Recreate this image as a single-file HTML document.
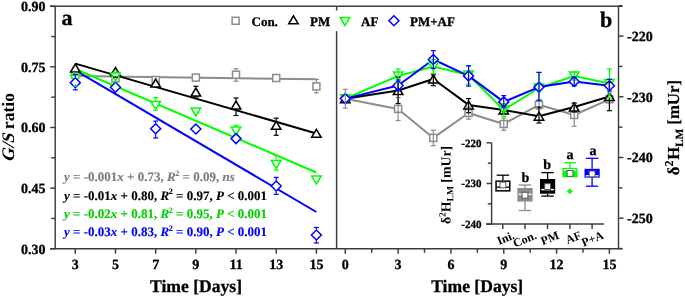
<!DOCTYPE html><html><head><meta charset="utf-8"><style>html,body{margin:0;padding:0;background:#fff;width:685px;height:297px;overflow:hidden}svg{will-change:transform}</style></head><body><svg xmlns="http://www.w3.org/2000/svg" width="685" height="297" viewBox="0 0 685 297" style="display:block;font-family:'Liberation Serif', serif;text-rendering:geometricPrecision">
<rect width="685" height="297" fill="#fff"/>
<line x1="75.30" y1="76.00" x2="316.40" y2="79.30" stroke="#8c8c8c" stroke-width="2.0" />
<line x1="75.30" y1="63.60" x2="316.40" y2="133.50" stroke="#000" stroke-width="2.0" />
<line x1="75.30" y1="69.00" x2="316.40" y2="172.50" stroke="#00ff00" stroke-width="2.0" />
<line x1="75.30" y1="70.40" x2="316.40" y2="212.00" stroke="#0000ff" stroke-width="2.0" />
<rect x="71.80" y="71.00" width="7.0" height="7.0" fill="#fff" stroke="#8c8c8c" stroke-width="1.5"/>
<rect x="111.98" y="75.00" width="7.0" height="7.0" fill="#fff" stroke="#8c8c8c" stroke-width="1.5"/>
<rect x="152.17" y="76.50" width="7.0" height="7.0" fill="#fff" stroke="#8c8c8c" stroke-width="1.5"/>
<rect x="192.35" y="74.10" width="7.0" height="7.0" fill="#fff" stroke="#8c8c8c" stroke-width="1.5"/>
<rect x="232.53" y="71.20" width="7.0" height="7.0" fill="#fff" stroke="#8c8c8c" stroke-width="1.5"/>
<rect x="272.72" y="74.50" width="7.0" height="7.0" fill="#fff" stroke="#8c8c8c" stroke-width="1.5"/>
<rect x="312.90" y="82.90" width="7.0" height="7.0" fill="#fff" stroke="#8c8c8c" stroke-width="1.5"/>
<polygon points="75.30,64.00 80.05,72.00 70.55,72.00" fill="#fff" stroke="#000" stroke-width="1.5" stroke-linejoin="miter"/>
<polygon points="115.48,67.50 120.23,75.50 110.73,75.50" fill="#fff" stroke="#000" stroke-width="1.5" stroke-linejoin="miter"/>
<polygon points="155.67,79.00 160.42,87.00 150.92,87.00" fill="#fff" stroke="#000" stroke-width="1.5" stroke-linejoin="miter"/>
<polygon points="195.85,88.00 200.60,96.00 191.10,96.00" fill="#fff" stroke="#000" stroke-width="1.5" stroke-linejoin="miter"/>
<polygon points="236.03,101.00 240.78,109.00 231.28,109.00" fill="#fff" stroke="#000" stroke-width="1.5" stroke-linejoin="miter"/>
<polygon points="276.22,121.30 280.97,129.30 271.47,129.30" fill="#fff" stroke="#000" stroke-width="1.5" stroke-linejoin="miter"/>
<polygon points="316.40,129.30 321.15,137.30 311.65,137.30" fill="#fff" stroke="#000" stroke-width="1.5" stroke-linejoin="miter"/>
<polygon points="75.30,83.20 80.05,75.20 70.55,75.20" fill="#fff" stroke="#00ff00" stroke-width="1.5" stroke-linejoin="miter"/>
<polygon points="115.48,81.00 120.23,73.00 110.73,73.00" fill="#fff" stroke="#00ff00" stroke-width="1.5" stroke-linejoin="miter"/>
<polygon points="155.67,109.40 160.42,101.40 150.92,101.40" fill="#fff" stroke="#00ff00" stroke-width="1.5" stroke-linejoin="miter"/>
<polygon points="195.85,116.00 200.60,108.00 191.10,108.00" fill="#fff" stroke="#00ff00" stroke-width="1.5" stroke-linejoin="miter"/>
<polygon points="236.03,135.00 240.78,127.00 231.28,127.00" fill="#fff" stroke="#00ff00" stroke-width="1.5" stroke-linejoin="miter"/>
<polygon points="276.22,168.50 280.97,160.50 271.47,160.50" fill="#fff" stroke="#00ff00" stroke-width="1.5" stroke-linejoin="miter"/>
<polygon points="316.40,184.00 321.15,176.00 311.65,176.00" fill="#fff" stroke="#00ff00" stroke-width="1.5" stroke-linejoin="miter"/>
<polygon points="75.30,77.80 80.30,82.80 75.30,87.80 70.30,82.80" fill="#fff" stroke="#0000ff" stroke-width="1.5"/>
<polygon points="115.48,82.30 120.48,87.30 115.48,92.30 110.48,87.30" fill="#fff" stroke="#0000ff" stroke-width="1.5"/>
<polygon points="155.67,123.70 160.67,128.70 155.67,133.70 150.67,128.70" fill="#fff" stroke="#0000ff" stroke-width="1.5"/>
<polygon points="195.85,124.00 200.85,129.00 195.85,134.00 190.85,129.00" fill="#fff" stroke="#0000ff" stroke-width="1.5"/>
<polygon points="236.03,133.60 241.03,138.60 236.03,143.60 231.03,138.60" fill="#fff" stroke="#0000ff" stroke-width="1.5"/>
<polygon points="276.22,181.00 281.22,186.00 276.22,191.00 271.22,186.00" fill="#fff" stroke="#0000ff" stroke-width="1.5"/>
<polygon points="316.40,230.00 321.40,235.00 316.40,240.00 311.40,235.00" fill="#fff" stroke="#0000ff" stroke-width="1.5"/>
<line x1="236.03" y1="68.80" x2="236.03" y2="70.50" stroke="#8c8c8c" stroke-width="1.2" />
<line x1="233.53" y1="68.80" x2="238.53" y2="68.80" stroke="#8c8c8c" stroke-width="1.2" />
<line x1="236.03" y1="78.90" x2="236.03" y2="81.20" stroke="#8c8c8c" stroke-width="1.2" />
<line x1="233.53" y1="81.20" x2="238.53" y2="81.20" stroke="#8c8c8c" stroke-width="1.2" />
<line x1="316.40" y1="79.40" x2="316.40" y2="82.20" stroke="#8c8c8c" stroke-width="1.2" />
<line x1="313.90" y1="79.40" x2="318.90" y2="79.40" stroke="#8c8c8c" stroke-width="1.2" />
<line x1="316.40" y1="90.60" x2="316.40" y2="92.80" stroke="#8c8c8c" stroke-width="1.2" />
<line x1="313.90" y1="92.80" x2="318.90" y2="92.80" stroke="#8c8c8c" stroke-width="1.2" />
<line x1="115.48" y1="76.20" x2="115.48" y2="77.20" stroke="#000" stroke-width="1.2" />
<line x1="112.98" y1="77.20" x2="117.98" y2="77.20" stroke="#000" stroke-width="1.2" />
<line x1="195.85" y1="86.30" x2="195.85" y2="87.30" stroke="#000" stroke-width="1.2" />
<line x1="193.35" y1="86.30" x2="198.35" y2="86.30" stroke="#000" stroke-width="1.2" />
<line x1="195.85" y1="96.70" x2="195.85" y2="97.00" stroke="#000" stroke-width="1.2" />
<line x1="193.35" y1="97.00" x2="198.35" y2="97.00" stroke="#000" stroke-width="1.2" />
<line x1="236.03" y1="98.00" x2="236.03" y2="100.30" stroke="#000" stroke-width="1.2" />
<line x1="233.53" y1="98.00" x2="238.53" y2="98.00" stroke="#000" stroke-width="1.2" />
<line x1="236.03" y1="109.70" x2="236.03" y2="115.50" stroke="#000" stroke-width="1.2" />
<line x1="233.53" y1="115.50" x2="238.53" y2="115.50" stroke="#000" stroke-width="1.2" />
<line x1="276.22" y1="118.20" x2="276.22" y2="120.60" stroke="#000" stroke-width="1.2" />
<line x1="273.72" y1="118.20" x2="278.72" y2="118.20" stroke="#000" stroke-width="1.2" />
<line x1="276.22" y1="130.00" x2="276.22" y2="135.30" stroke="#000" stroke-width="1.2" />
<line x1="273.72" y1="135.30" x2="278.72" y2="135.30" stroke="#000" stroke-width="1.2" />
<line x1="75.30" y1="73.00" x2="75.30" y2="74.50" stroke="#00ff00" stroke-width="1.2" />
<line x1="72.80" y1="73.00" x2="77.80" y2="73.00" stroke="#00ff00" stroke-width="1.2" />
<line x1="75.30" y1="83.90" x2="75.30" y2="86.00" stroke="#00ff00" stroke-width="1.2" />
<line x1="72.80" y1="86.00" x2="77.80" y2="86.00" stroke="#00ff00" stroke-width="1.2" />
<line x1="115.48" y1="72.10" x2="115.48" y2="72.30" stroke="#00ff00" stroke-width="1.2" />
<line x1="112.98" y1="72.10" x2="117.98" y2="72.10" stroke="#00ff00" stroke-width="1.2" />
<line x1="115.48" y1="81.70" x2="115.48" y2="82.00" stroke="#00ff00" stroke-width="1.2" />
<line x1="112.98" y1="82.00" x2="117.98" y2="82.00" stroke="#00ff00" stroke-width="1.2" />
<line x1="155.67" y1="97.60" x2="155.67" y2="100.70" stroke="#00ff00" stroke-width="1.2" />
<line x1="153.17" y1="97.60" x2="158.17" y2="97.60" stroke="#00ff00" stroke-width="1.2" />
<line x1="155.67" y1="110.10" x2="155.67" y2="110.20" stroke="#00ff00" stroke-width="1.2" />
<line x1="153.17" y1="110.20" x2="158.17" y2="110.20" stroke="#00ff00" stroke-width="1.2" />
<line x1="236.03" y1="125.40" x2="236.03" y2="126.30" stroke="#00ff00" stroke-width="1.2" />
<line x1="233.53" y1="125.40" x2="238.53" y2="125.40" stroke="#00ff00" stroke-width="1.2" />
<line x1="276.22" y1="155.50" x2="276.22" y2="159.80" stroke="#00ff00" stroke-width="1.2" />
<line x1="273.72" y1="155.50" x2="278.72" y2="155.50" stroke="#00ff00" stroke-width="1.2" />
<line x1="276.22" y1="169.20" x2="276.22" y2="170.10" stroke="#00ff00" stroke-width="1.2" />
<line x1="273.72" y1="170.10" x2="278.72" y2="170.10" stroke="#00ff00" stroke-width="1.2" />
<line x1="75.30" y1="74.40" x2="75.30" y2="77.20" stroke="#0000ff" stroke-width="1.2" />
<line x1="72.80" y1="74.40" x2="77.80" y2="74.40" stroke="#0000ff" stroke-width="1.2" />
<line x1="75.30" y1="88.40" x2="75.30" y2="89.80" stroke="#0000ff" stroke-width="1.2" />
<line x1="72.80" y1="89.80" x2="77.80" y2="89.80" stroke="#0000ff" stroke-width="1.2" />
<line x1="155.67" y1="121.10" x2="155.67" y2="123.10" stroke="#0000ff" stroke-width="1.2" />
<line x1="153.17" y1="121.10" x2="158.17" y2="121.10" stroke="#0000ff" stroke-width="1.2" />
<line x1="155.67" y1="134.30" x2="155.67" y2="138.00" stroke="#0000ff" stroke-width="1.2" />
<line x1="153.17" y1="138.00" x2="158.17" y2="138.00" stroke="#0000ff" stroke-width="1.2" />
<line x1="276.22" y1="177.40" x2="276.22" y2="180.40" stroke="#0000ff" stroke-width="1.2" />
<line x1="273.72" y1="177.40" x2="278.72" y2="177.40" stroke="#0000ff" stroke-width="1.2" />
<line x1="276.22" y1="191.60" x2="276.22" y2="194.40" stroke="#0000ff" stroke-width="1.2" />
<line x1="273.72" y1="194.40" x2="278.72" y2="194.40" stroke="#0000ff" stroke-width="1.2" />
<line x1="316.40" y1="227.50" x2="316.40" y2="229.40" stroke="#0000ff" stroke-width="1.2" />
<line x1="313.90" y1="227.50" x2="318.90" y2="227.50" stroke="#0000ff" stroke-width="1.2" />
<line x1="316.40" y1="240.60" x2="316.40" y2="243.00" stroke="#0000ff" stroke-width="1.2" />
<line x1="313.90" y1="243.00" x2="318.90" y2="243.00" stroke="#0000ff" stroke-width="1.2" />
<text x="64.00" y="181.40" font-size="13" text-anchor="start" fill="#7c7c7c" font-weight="bold" stroke="#7c7c7c" stroke-width="0.12" style="" ><tspan font-style="italic">y</tspan><tspan> = -0.001</tspan><tspan font-style="italic">x</tspan><tspan> + 0.73, </tspan><tspan font-style="italic">R</tspan><tspan font-size="8.1" dy="-5.5" dx="-0.4">2</tspan><tspan dy="5.5"> = 0.09, </tspan><tspan font-style="italic">ns</tspan></text>
<text x="64.00" y="199.70" font-size="13" text-anchor="start" fill="#000" font-weight="bold" stroke="#000" stroke-width="0.12" style="" ><tspan font-style="italic">y</tspan><tspan> = -0.01</tspan><tspan font-style="italic">x</tspan><tspan> + 0.80, </tspan><tspan font-style="italic">R</tspan><tspan font-size="8.1" dy="-5.5" dx="-0.4">2</tspan><tspan dy="5.5"> = 0.97, </tspan><tspan font-style="italic">P</tspan><tspan> &lt; 0.001</tspan></text>
<text x="64.00" y="218.20" font-size="13" text-anchor="start" fill="#00d000" font-weight="bold" stroke="#00d000" stroke-width="0.12" style="" ><tspan font-style="italic">y</tspan><tspan> = -0.02</tspan><tspan font-style="italic">x</tspan><tspan> + 0.81, </tspan><tspan font-style="italic">R</tspan><tspan font-size="8.1" dy="-5.5" dx="-0.4">2</tspan><tspan dy="5.5"> = 0.95, </tspan><tspan font-style="italic">P</tspan><tspan> &lt; 0.001</tspan></text>
<text x="64.00" y="236.20" font-size="13" text-anchor="start" fill="#0000ff" font-weight="bold" stroke="#0000ff" stroke-width="0.12" style="" ><tspan font-style="italic">y</tspan><tspan> = -0.03</tspan><tspan font-style="italic">x</tspan><tspan> + 0.83, </tspan><tspan font-style="italic">R</tspan><tspan font-size="8.1" dy="-5.5" dx="-0.4">2</tspan><tspan dy="5.5"> = 0.90, </tspan><tspan font-style="italic">P</tspan><tspan> &lt; 0.001</tspan></text>
<polyline points="345.30,98.70 398.12,108.90 433.33,137.90 468.55,113.00 503.76,124.00 538.97,104.80 574.19,115.00 609.40,99.30" fill="none" stroke="#8c8c8c" stroke-width="2.0" stroke-linejoin="round"/>
<polyline points="345.30,98.70 398.12,90.50 433.33,79.00 468.55,104.90 503.76,110.00 538.97,116.20 574.19,107.00 609.40,96.50" fill="none" stroke="#000" stroke-width="2.0" stroke-linejoin="round"/>
<polyline points="345.30,98.70 398.12,76.00 433.33,66.50 468.55,75.00 503.76,110.00 538.97,88.00 574.19,76.00 609.40,83.50" fill="none" stroke="#00ff00" stroke-width="2.0" stroke-linejoin="round"/>
<polyline points="345.30,98.60 398.12,85.50 433.33,59.50 468.55,75.90 503.76,101.90 538.97,87.10 574.19,81.50 609.40,85.70" fill="none" stroke="#0000ff" stroke-width="2.0" stroke-linejoin="round"/>
<rect x="341.80" y="95.20" width="7.0" height="7.0" fill="#fff" stroke="#8c8c8c" stroke-width="1.5"/>
<rect x="394.62" y="105.40" width="7.0" height="7.0" fill="#fff" stroke="#8c8c8c" stroke-width="1.5"/>
<rect x="429.83" y="134.40" width="7.0" height="7.0" fill="#fff" stroke="#8c8c8c" stroke-width="1.5"/>
<rect x="465.05" y="109.50" width="7.0" height="7.0" fill="#fff" stroke="#8c8c8c" stroke-width="1.5"/>
<rect x="500.26" y="120.50" width="7.0" height="7.0" fill="#fff" stroke="#8c8c8c" stroke-width="1.5"/>
<rect x="535.47" y="101.30" width="7.0" height="7.0" fill="#fff" stroke="#8c8c8c" stroke-width="1.5"/>
<rect x="570.69" y="111.50" width="7.0" height="7.0" fill="#fff" stroke="#8c8c8c" stroke-width="1.5"/>
<rect x="605.90" y="95.80" width="7.0" height="7.0" fill="#fff" stroke="#8c8c8c" stroke-width="1.5"/>
<polygon points="345.30,94.70 350.05,102.70 340.55,102.70" fill="#fff" stroke="#000" stroke-width="1.5" stroke-linejoin="miter"/>
<polygon points="398.12,86.50 402.87,94.50 393.37,94.50" fill="#fff" stroke="#000" stroke-width="1.5" stroke-linejoin="miter"/>
<polygon points="433.33,75.00 438.08,83.00 428.58,83.00" fill="#fff" stroke="#000" stroke-width="1.5" stroke-linejoin="miter"/>
<polygon points="468.55,100.90 473.30,108.90 463.80,108.90" fill="#fff" stroke="#000" stroke-width="1.5" stroke-linejoin="miter"/>
<polygon points="503.76,106.00 508.51,114.00 499.01,114.00" fill="#fff" stroke="#000" stroke-width="1.5" stroke-linejoin="miter"/>
<polygon points="538.97,112.20 543.72,120.20 534.22,120.20" fill="#fff" stroke="#000" stroke-width="1.5" stroke-linejoin="miter"/>
<polygon points="574.19,103.00 578.94,111.00 569.44,111.00" fill="#fff" stroke="#000" stroke-width="1.5" stroke-linejoin="miter"/>
<polygon points="609.40,92.50 614.15,100.50 604.65,100.50" fill="#fff" stroke="#000" stroke-width="1.5" stroke-linejoin="miter"/>
<polygon points="345.30,102.70 350.05,94.70 340.55,94.70" fill="#fff" stroke="#00ff00" stroke-width="1.5" stroke-linejoin="miter"/>
<polygon points="398.12,80.00 402.87,72.00 393.37,72.00" fill="#fff" stroke="#00ff00" stroke-width="1.5" stroke-linejoin="miter"/>
<polygon points="433.33,70.50 438.08,62.50 428.58,62.50" fill="#fff" stroke="#00ff00" stroke-width="1.5" stroke-linejoin="miter"/>
<polygon points="468.55,79.00 473.30,71.00 463.80,71.00" fill="#fff" stroke="#00ff00" stroke-width="1.5" stroke-linejoin="miter"/>
<polygon points="503.76,114.00 508.51,106.00 499.01,106.00" fill="#fff" stroke="#00ff00" stroke-width="1.5" stroke-linejoin="miter"/>
<polygon points="538.97,92.00 543.72,84.00 534.22,84.00" fill="#fff" stroke="#00ff00" stroke-width="1.5" stroke-linejoin="miter"/>
<polygon points="574.19,80.00 578.94,72.00 569.44,72.00" fill="#fff" stroke="#00ff00" stroke-width="1.5" stroke-linejoin="miter"/>
<polygon points="609.40,87.50 614.15,79.50 604.65,79.50" fill="#fff" stroke="#00ff00" stroke-width="1.5" stroke-linejoin="miter"/>
<polygon points="345.30,93.60 350.30,98.60 345.30,103.60 340.30,98.60" fill="#fff" stroke="#0000ff" stroke-width="1.5"/>
<polygon points="398.12,80.50 403.12,85.50 398.12,90.50 393.12,85.50" fill="#fff" stroke="#0000ff" stroke-width="1.5"/>
<polygon points="433.33,54.50 438.33,59.50 433.33,64.50 428.33,59.50" fill="#fff" stroke="#0000ff" stroke-width="1.5"/>
<polygon points="468.55,70.90 473.55,75.90 468.55,80.90 463.55,75.90" fill="#fff" stroke="#0000ff" stroke-width="1.5"/>
<polygon points="503.76,96.90 508.76,101.90 503.76,106.90 498.76,101.90" fill="#fff" stroke="#0000ff" stroke-width="1.5"/>
<polygon points="538.97,82.10 543.97,87.10 538.97,92.10 533.97,87.10" fill="#fff" stroke="#0000ff" stroke-width="1.5"/>
<polygon points="574.19,76.50 579.19,81.50 574.19,86.50 569.19,81.50" fill="#fff" stroke="#0000ff" stroke-width="1.5"/>
<polygon points="609.40,80.70 614.40,85.70 609.40,90.70 604.40,85.70" fill="#fff" stroke="#0000ff" stroke-width="1.5"/>
<line x1="345.30" y1="89.30" x2="345.30" y2="108.20" stroke="#8c8c8c" stroke-width="1.2" />
<line x1="342.80" y1="89.30" x2="347.80" y2="89.30" stroke="#8c8c8c" stroke-width="1.2" />
<line x1="342.80" y1="108.20" x2="347.80" y2="108.20" stroke="#8c8c8c" stroke-width="1.2" />
<line x1="398.12" y1="97.50" x2="398.12" y2="120.60" stroke="#8c8c8c" stroke-width="1.2" />
<line x1="395.62" y1="97.50" x2="400.62" y2="97.50" stroke="#8c8c8c" stroke-width="1.2" />
<line x1="395.62" y1="120.60" x2="400.62" y2="120.60" stroke="#8c8c8c" stroke-width="1.2" />
<line x1="433.33" y1="130.20" x2="433.33" y2="145.70" stroke="#8c8c8c" stroke-width="1.2" />
<line x1="430.83" y1="130.20" x2="435.83" y2="130.20" stroke="#8c8c8c" stroke-width="1.2" />
<line x1="430.83" y1="145.70" x2="435.83" y2="145.70" stroke="#8c8c8c" stroke-width="1.2" />
<line x1="468.55" y1="107.00" x2="468.55" y2="119.10" stroke="#8c8c8c" stroke-width="1.2" />
<line x1="466.05" y1="107.00" x2="471.05" y2="107.00" stroke="#8c8c8c" stroke-width="1.2" />
<line x1="466.05" y1="119.10" x2="471.05" y2="119.10" stroke="#8c8c8c" stroke-width="1.2" />
<line x1="503.76" y1="118.10" x2="503.76" y2="130.30" stroke="#8c8c8c" stroke-width="1.2" />
<line x1="501.26" y1="118.10" x2="506.26" y2="118.10" stroke="#8c8c8c" stroke-width="1.2" />
<line x1="501.26" y1="130.30" x2="506.26" y2="130.30" stroke="#8c8c8c" stroke-width="1.2" />
<line x1="538.97" y1="100.50" x2="538.97" y2="109.00" stroke="#8c8c8c" stroke-width="1.2" />
<line x1="536.47" y1="100.50" x2="541.47" y2="100.50" stroke="#8c8c8c" stroke-width="1.2" />
<line x1="536.47" y1="109.00" x2="541.47" y2="109.00" stroke="#8c8c8c" stroke-width="1.2" />
<line x1="574.19" y1="103.70" x2="574.19" y2="126.30" stroke="#8c8c8c" stroke-width="1.2" />
<line x1="571.69" y1="103.70" x2="576.69" y2="103.70" stroke="#8c8c8c" stroke-width="1.2" />
<line x1="571.69" y1="126.30" x2="576.69" y2="126.30" stroke="#8c8c8c" stroke-width="1.2" />
<line x1="609.40" y1="94.00" x2="609.40" y2="102.00" stroke="#8c8c8c" stroke-width="1.2" />
<line x1="606.90" y1="94.00" x2="611.90" y2="94.00" stroke="#8c8c8c" stroke-width="1.2" />
<line x1="606.90" y1="102.00" x2="611.90" y2="102.00" stroke="#8c8c8c" stroke-width="1.2" />
<line x1="398.12" y1="77.00" x2="398.12" y2="103.50" stroke="#000" stroke-width="1.2" />
<line x1="395.62" y1="77.00" x2="400.62" y2="77.00" stroke="#000" stroke-width="1.2" />
<line x1="395.62" y1="103.50" x2="400.62" y2="103.50" stroke="#000" stroke-width="1.2" />
<line x1="433.33" y1="74.90" x2="433.33" y2="85.70" stroke="#000" stroke-width="1.2" />
<line x1="430.83" y1="74.90" x2="435.83" y2="74.90" stroke="#000" stroke-width="1.2" />
<line x1="430.83" y1="85.70" x2="435.83" y2="85.70" stroke="#000" stroke-width="1.2" />
<line x1="468.55" y1="98.60" x2="468.55" y2="112.70" stroke="#000" stroke-width="1.2" />
<line x1="466.05" y1="98.60" x2="471.05" y2="98.60" stroke="#000" stroke-width="1.2" />
<line x1="466.05" y1="112.70" x2="471.05" y2="112.70" stroke="#000" stroke-width="1.2" />
<line x1="503.76" y1="106.00" x2="503.76" y2="114.00" stroke="#000" stroke-width="1.2" />
<line x1="501.26" y1="106.00" x2="506.26" y2="106.00" stroke="#000" stroke-width="1.2" />
<line x1="501.26" y1="114.00" x2="506.26" y2="114.00" stroke="#000" stroke-width="1.2" />
<line x1="538.97" y1="107.00" x2="538.97" y2="123.00" stroke="#000" stroke-width="1.2" />
<line x1="536.47" y1="107.00" x2="541.47" y2="107.00" stroke="#000" stroke-width="1.2" />
<line x1="536.47" y1="123.00" x2="541.47" y2="123.00" stroke="#000" stroke-width="1.2" />
<line x1="574.19" y1="103.00" x2="574.19" y2="112.00" stroke="#000" stroke-width="1.2" />
<line x1="571.69" y1="103.00" x2="576.69" y2="103.00" stroke="#000" stroke-width="1.2" />
<line x1="571.69" y1="112.00" x2="576.69" y2="112.00" stroke="#000" stroke-width="1.2" />
<line x1="609.40" y1="82.30" x2="609.40" y2="110.70" stroke="#000" stroke-width="1.2" />
<line x1="606.90" y1="82.30" x2="611.90" y2="82.30" stroke="#000" stroke-width="1.2" />
<line x1="606.90" y1="110.70" x2="611.90" y2="110.70" stroke="#000" stroke-width="1.2" />
<line x1="398.12" y1="69.00" x2="398.12" y2="83.00" stroke="#00ff00" stroke-width="1.2" />
<line x1="395.62" y1="69.00" x2="400.62" y2="69.00" stroke="#00ff00" stroke-width="1.2" />
<line x1="395.62" y1="83.00" x2="400.62" y2="83.00" stroke="#00ff00" stroke-width="1.2" />
<line x1="433.33" y1="59.60" x2="433.33" y2="73.40" stroke="#00ff00" stroke-width="1.2" />
<line x1="430.83" y1="59.60" x2="435.83" y2="59.60" stroke="#00ff00" stroke-width="1.2" />
<line x1="430.83" y1="73.40" x2="435.83" y2="73.40" stroke="#00ff00" stroke-width="1.2" />
<line x1="468.55" y1="65.80" x2="468.55" y2="84.20" stroke="#00ff00" stroke-width="1.2" />
<line x1="466.05" y1="65.80" x2="471.05" y2="65.80" stroke="#00ff00" stroke-width="1.2" />
<line x1="466.05" y1="84.20" x2="471.05" y2="84.20" stroke="#00ff00" stroke-width="1.2" />
<line x1="503.76" y1="103.60" x2="503.76" y2="116.40" stroke="#00ff00" stroke-width="1.2" />
<line x1="501.26" y1="103.60" x2="506.26" y2="103.60" stroke="#00ff00" stroke-width="1.2" />
<line x1="501.26" y1="116.40" x2="506.26" y2="116.40" stroke="#00ff00" stroke-width="1.2" />
<line x1="538.97" y1="72.40" x2="538.97" y2="100.30" stroke="#00ff00" stroke-width="1.2" />
<line x1="536.47" y1="72.40" x2="541.47" y2="72.40" stroke="#00ff00" stroke-width="1.2" />
<line x1="536.47" y1="100.30" x2="541.47" y2="100.30" stroke="#00ff00" stroke-width="1.2" />
<line x1="574.19" y1="71.90" x2="574.19" y2="80.10" stroke="#00ff00" stroke-width="1.2" />
<line x1="571.69" y1="71.90" x2="576.69" y2="71.90" stroke="#00ff00" stroke-width="1.2" />
<line x1="571.69" y1="80.10" x2="576.69" y2="80.10" stroke="#00ff00" stroke-width="1.2" />
<line x1="609.40" y1="68.90" x2="609.40" y2="98.00" stroke="#00ff00" stroke-width="1.2" />
<line x1="606.90" y1="68.90" x2="611.90" y2="68.90" stroke="#00ff00" stroke-width="1.2" />
<line x1="606.90" y1="98.00" x2="611.90" y2="98.00" stroke="#00ff00" stroke-width="1.2" />
<line x1="398.12" y1="80.00" x2="398.12" y2="91.00" stroke="#0000ff" stroke-width="1.2" />
<line x1="395.62" y1="80.00" x2="400.62" y2="80.00" stroke="#0000ff" stroke-width="1.2" />
<line x1="395.62" y1="91.00" x2="400.62" y2="91.00" stroke="#0000ff" stroke-width="1.2" />
<line x1="433.33" y1="50.70" x2="433.33" y2="68.40" stroke="#0000ff" stroke-width="1.2" />
<line x1="430.83" y1="50.70" x2="435.83" y2="50.70" stroke="#0000ff" stroke-width="1.2" />
<line x1="430.83" y1="68.40" x2="435.83" y2="68.40" stroke="#0000ff" stroke-width="1.2" />
<line x1="468.55" y1="65.80" x2="468.55" y2="86.10" stroke="#0000ff" stroke-width="1.2" />
<line x1="466.05" y1="65.80" x2="471.05" y2="65.80" stroke="#0000ff" stroke-width="1.2" />
<line x1="466.05" y1="86.10" x2="471.05" y2="86.10" stroke="#0000ff" stroke-width="1.2" />
<line x1="503.76" y1="95.60" x2="503.76" y2="107.80" stroke="#0000ff" stroke-width="1.2" />
<line x1="501.26" y1="95.60" x2="506.26" y2="95.60" stroke="#0000ff" stroke-width="1.2" />
<line x1="501.26" y1="107.80" x2="506.26" y2="107.80" stroke="#0000ff" stroke-width="1.2" />
<line x1="538.97" y1="72.40" x2="538.97" y2="100.30" stroke="#0000ff" stroke-width="1.2" />
<line x1="536.47" y1="72.40" x2="541.47" y2="72.40" stroke="#0000ff" stroke-width="1.2" />
<line x1="536.47" y1="100.30" x2="541.47" y2="100.30" stroke="#0000ff" stroke-width="1.2" />
<line x1="574.19" y1="77.00" x2="574.19" y2="86.00" stroke="#0000ff" stroke-width="1.2" />
<line x1="571.69" y1="77.00" x2="576.69" y2="77.00" stroke="#0000ff" stroke-width="1.2" />
<line x1="571.69" y1="86.00" x2="576.69" y2="86.00" stroke="#0000ff" stroke-width="1.2" />
<line x1="609.40" y1="79.30" x2="609.40" y2="91.10" stroke="#0000ff" stroke-width="1.2" />
<line x1="606.90" y1="79.30" x2="611.90" y2="79.30" stroke="#0000ff" stroke-width="1.2" />
<line x1="606.90" y1="91.10" x2="611.90" y2="91.10" stroke="#0000ff" stroke-width="1.2" />
<rect x="226" y="10.5" width="232" height="20.5" fill="#fff"/>
<rect x="232.10" y="17.30" width="7.0" height="7.0" fill="#fff" stroke="#8c8c8c" stroke-width="1.5"/>
<text x="251.50" y="26.00" font-size="13" text-anchor="start" fill="#000" font-weight="bold" stroke="#000" stroke-width="0.3" style="" >Con.</text>
<polygon points="293.50,15.80 298.25,23.80 288.75,23.80" fill="#fff" stroke="#000" stroke-width="1.5" stroke-linejoin="miter"/>
<text x="310.00" y="26.00" font-size="13" text-anchor="start" fill="#000" font-weight="bold" stroke="#000" stroke-width="0.3" style="" >PM</text>
<polygon points="345.00,25.50 349.75,17.50 340.25,17.50" fill="#fff" stroke="#00ff00" stroke-width="1.5" stroke-linejoin="miter"/>
<text x="361.00" y="26.00" font-size="13" text-anchor="start" fill="#000" font-weight="bold" stroke="#000" stroke-width="0.3" style="" >AF</text>
<polygon points="393.90,15.70 398.90,20.70 393.90,25.70 388.90,20.70" fill="#fff" stroke="#0000ff" stroke-width="1.5"/>
<text x="410.00" y="26.00" font-size="13" text-anchor="start" fill="#000" font-weight="bold" stroke="#000" stroke-width="0.3" style="" >PM+AF</text>
<line x1="50.00" y1="6.20" x2="622.50" y2="6.20" stroke="#3c3c3c" stroke-width="1.45" />
<line x1="50.00" y1="248.80" x2="622.50" y2="248.80" stroke="#3c3c3c" stroke-width="1.45" />
<line x1="55.20" y1="6.20" x2="55.20" y2="248.80" stroke="#3c3c3c" stroke-width="1.45" />
<line x1="336.60" y1="6.20" x2="336.60" y2="10.50" stroke="#3c3c3c" stroke-width="1.45" />
<line x1="336.60" y1="31.20" x2="336.60" y2="248.80" stroke="#3c3c3c" stroke-width="1.45" />
<line x1="618.50" y1="6.20" x2="618.50" y2="248.80" stroke="#3c3c3c" stroke-width="1.45" />
<line x1="50.20" y1="6.20" x2="55.20" y2="6.20" stroke="#3c3c3c" stroke-width="1.45" />
<text x="45.50" y="11.00" font-size="14" text-anchor="end" fill="#000" font-weight="bold" stroke="#000" stroke-width="0.3" style="" >0.90</text>
<line x1="50.20" y1="66.85" x2="55.20" y2="66.85" stroke="#3c3c3c" stroke-width="1.45" />
<text x="45.50" y="71.65" font-size="14" text-anchor="end" fill="#000" font-weight="bold" stroke="#000" stroke-width="0.3" style="" >0.75</text>
<line x1="50.20" y1="127.50" x2="55.20" y2="127.50" stroke="#3c3c3c" stroke-width="1.45" />
<text x="45.50" y="132.30" font-size="14" text-anchor="end" fill="#000" font-weight="bold" stroke="#000" stroke-width="0.3" style="" >0.60</text>
<line x1="50.20" y1="188.15" x2="55.20" y2="188.15" stroke="#3c3c3c" stroke-width="1.45" />
<text x="45.50" y="192.95" font-size="14" text-anchor="end" fill="#000" font-weight="bold" stroke="#000" stroke-width="0.3" style="" >0.45</text>
<line x1="50.20" y1="248.80" x2="55.20" y2="248.80" stroke="#3c3c3c" stroke-width="1.45" />
<text x="45.50" y="253.60" font-size="14" text-anchor="end" fill="#000" font-weight="bold" stroke="#000" stroke-width="0.3" style="" >0.30</text>
<line x1="51.20" y1="36.53" x2="55.20" y2="36.53" stroke="#3c3c3c" stroke-width="1.45" />
<line x1="51.20" y1="97.18" x2="55.20" y2="97.18" stroke="#3c3c3c" stroke-width="1.45" />
<line x1="51.20" y1="157.83" x2="55.20" y2="157.83" stroke="#3c3c3c" stroke-width="1.45" />
<line x1="51.20" y1="218.48" x2="55.20" y2="218.48" stroke="#3c3c3c" stroke-width="1.45" />
<line x1="75.30" y1="248.80" x2="75.30" y2="253.80" stroke="#3c3c3c" stroke-width="1.45" />
<text x="75.30" y="268.60" font-size="14" text-anchor="middle" fill="#000" font-weight="bold" stroke="#000" stroke-width="0.3" style="" >3</text>
<line x1="115.48" y1="248.80" x2="115.48" y2="253.80" stroke="#3c3c3c" stroke-width="1.45" />
<text x="115.48" y="268.60" font-size="14" text-anchor="middle" fill="#000" font-weight="bold" stroke="#000" stroke-width="0.3" style="" >5</text>
<line x1="155.67" y1="248.80" x2="155.67" y2="253.80" stroke="#3c3c3c" stroke-width="1.45" />
<text x="155.67" y="268.60" font-size="14" text-anchor="middle" fill="#000" font-weight="bold" stroke="#000" stroke-width="0.3" style="" >7</text>
<line x1="195.85" y1="248.80" x2="195.85" y2="253.80" stroke="#3c3c3c" stroke-width="1.45" />
<text x="195.85" y="268.60" font-size="14" text-anchor="middle" fill="#000" font-weight="bold" stroke="#000" stroke-width="0.3" style="" >9</text>
<line x1="236.03" y1="248.80" x2="236.03" y2="253.80" stroke="#3c3c3c" stroke-width="1.45" />
<text x="236.03" y="268.60" font-size="14" text-anchor="middle" fill="#000" font-weight="bold" stroke="#000" stroke-width="0.3" style="" >11</text>
<line x1="276.22" y1="248.80" x2="276.22" y2="253.80" stroke="#3c3c3c" stroke-width="1.45" />
<text x="276.22" y="268.60" font-size="14" text-anchor="middle" fill="#000" font-weight="bold" stroke="#000" stroke-width="0.3" style="" >13</text>
<line x1="316.40" y1="248.80" x2="316.40" y2="253.80" stroke="#3c3c3c" stroke-width="1.45" />
<text x="316.40" y="268.60" font-size="14" text-anchor="middle" fill="#000" font-weight="bold" stroke="#000" stroke-width="0.3" style="" >15</text>
<line x1="345.30" y1="248.80" x2="345.30" y2="253.80" stroke="#3c3c3c" stroke-width="1.45" />
<text x="345.30" y="268.60" font-size="14" text-anchor="middle" fill="#000" font-weight="bold" stroke="#000" stroke-width="0.3" style="" >0</text>
<line x1="398.12" y1="248.80" x2="398.12" y2="253.80" stroke="#3c3c3c" stroke-width="1.45" />
<text x="398.12" y="268.60" font-size="14" text-anchor="middle" fill="#000" font-weight="bold" stroke="#000" stroke-width="0.3" style="" >3</text>
<line x1="450.94" y1="248.80" x2="450.94" y2="253.80" stroke="#3c3c3c" stroke-width="1.45" />
<text x="450.94" y="268.60" font-size="14" text-anchor="middle" fill="#000" font-weight="bold" stroke="#000" stroke-width="0.3" style="" >6</text>
<line x1="503.76" y1="248.80" x2="503.76" y2="253.80" stroke="#3c3c3c" stroke-width="1.45" />
<text x="503.76" y="268.60" font-size="14" text-anchor="middle" fill="#000" font-weight="bold" stroke="#000" stroke-width="0.3" style="" >9</text>
<line x1="556.58" y1="248.80" x2="556.58" y2="253.80" stroke="#3c3c3c" stroke-width="1.45" />
<text x="556.58" y="268.60" font-size="14" text-anchor="middle" fill="#000" font-weight="bold" stroke="#000" stroke-width="0.3" style="" >12</text>
<line x1="609.40" y1="248.80" x2="609.40" y2="253.80" stroke="#3c3c3c" stroke-width="1.45" />
<text x="609.40" y="268.60" font-size="14" text-anchor="middle" fill="#000" font-weight="bold" stroke="#000" stroke-width="0.3" style="" >15</text>
<line x1="371.71" y1="248.80" x2="371.71" y2="252.80" stroke="#3c3c3c" stroke-width="1.45" />
<line x1="424.53" y1="248.80" x2="424.53" y2="252.80" stroke="#3c3c3c" stroke-width="1.45" />
<line x1="477.35" y1="248.80" x2="477.35" y2="252.80" stroke="#3c3c3c" stroke-width="1.45" />
<line x1="530.17" y1="248.80" x2="530.17" y2="252.80" stroke="#3c3c3c" stroke-width="1.45" />
<line x1="582.99" y1="248.80" x2="582.99" y2="252.80" stroke="#3c3c3c" stroke-width="1.45" />
<line x1="618.50" y1="36.10" x2="623.50" y2="36.10" stroke="#3c3c3c" stroke-width="1.45" />
<text x="627.00" y="40.90" font-size="14" text-anchor="start" fill="#000" font-weight="bold" stroke="#000" stroke-width="0.3" style="" >-220</text>
<line x1="618.50" y1="96.80" x2="623.50" y2="96.80" stroke="#3c3c3c" stroke-width="1.45" />
<text x="627.00" y="101.60" font-size="14" text-anchor="start" fill="#000" font-weight="bold" stroke="#000" stroke-width="0.3" style="" >-230</text>
<line x1="618.50" y1="157.50" x2="623.50" y2="157.50" stroke="#3c3c3c" stroke-width="1.45" />
<text x="627.00" y="162.30" font-size="14" text-anchor="start" fill="#000" font-weight="bold" stroke="#000" stroke-width="0.3" style="" >-240</text>
<line x1="618.50" y1="218.20" x2="623.50" y2="218.20" stroke="#3c3c3c" stroke-width="1.45" />
<text x="627.00" y="223.00" font-size="14" text-anchor="start" fill="#000" font-weight="bold" stroke="#000" stroke-width="0.3" style="" >-250</text>
<line x1="618.50" y1="5.75" x2="622.50" y2="5.75" stroke="#3c3c3c" stroke-width="1.45" />
<line x1="618.50" y1="66.45" x2="622.50" y2="66.45" stroke="#3c3c3c" stroke-width="1.45" />
<line x1="618.50" y1="127.15" x2="622.50" y2="127.15" stroke="#3c3c3c" stroke-width="1.45" />
<line x1="618.50" y1="187.85" x2="622.50" y2="187.85" stroke="#3c3c3c" stroke-width="1.45" />
<line x1="618.50" y1="248.55" x2="622.50" y2="248.55" stroke="#3c3c3c" stroke-width="1.45" />
<text x="196.00" y="291.50" font-size="17.6" text-anchor="middle" fill="#000" font-weight="bold" stroke="#000" stroke-width="0.3" style="" >Time [Days]</text>
<text x="477.20" y="291.50" font-size="17.6" text-anchor="middle" fill="#000" font-weight="bold" stroke="#000" stroke-width="0.3" style="" >Time [Days]</text>
<g transform="translate(13.8,127.0) rotate(-90)" font-size="17.6" font-weight="bold"><text transform="translate(-35.3,0) skewX(-15)">G/S</text><text x="-2.18" y="0">ratio</text></g>
<text transform="translate(679,127.6) rotate(-90)" font-size="16.8" font-weight="bold" text-anchor="middle" stroke="#000" stroke-width="0.2">δ<tspan font-size="12" dy="-6.5">2</tspan><tspan dy="6.5" dx="0.8">H</tspan><tspan font-size="11" dy="3.5">LM</tspan><tspan dy="-3.5"> [mUr]</tspan></text>
<text x="61.50" y="25.00" font-size="22" text-anchor="start" fill="#000" font-weight="bold" stroke="#000" stroke-width="0.3" style="" >a</text>
<text x="600.00" y="27.00" font-size="22" text-anchor="start" fill="#000" font-weight="bold" stroke="#000" stroke-width="0.3" style="" >b</text>
<line x1="491.60" y1="142.80" x2="491.60" y2="223.90" stroke="#3c3c3c" stroke-width="1.45" />
<line x1="486.00" y1="223.90" x2="604.00" y2="223.90" stroke="#3c3c3c" stroke-width="1.45" />
<line x1="486.50" y1="142.80" x2="491.60" y2="142.80" stroke="#3c3c3c" stroke-width="1.45" />
<text x="481.50" y="146.60" font-size="11" text-anchor="end" fill="#000" font-weight="bold" stroke="#000" stroke-width="0.3" style="" >-220</text>
<line x1="486.50" y1="183.50" x2="491.60" y2="183.50" stroke="#3c3c3c" stroke-width="1.45" />
<text x="481.50" y="187.30" font-size="11" text-anchor="end" fill="#000" font-weight="bold" stroke="#000" stroke-width="0.3" style="" >-230</text>
<line x1="486.50" y1="224.20" x2="491.60" y2="224.20" stroke="#3c3c3c" stroke-width="1.45" />
<text x="481.50" y="228.00" font-size="11" text-anchor="end" fill="#000" font-weight="bold" stroke="#000" stroke-width="0.3" style="" >-240</text>
<line x1="487.80" y1="163.15" x2="491.60" y2="163.15" stroke="#3c3c3c" stroke-width="1.45" />
<line x1="487.80" y1="203.85" x2="491.60" y2="203.85" stroke="#3c3c3c" stroke-width="1.45" />
<line x1="502.80" y1="223.90" x2="502.80" y2="229.00" stroke="#3c3c3c" stroke-width="1.45" />
<line x1="525.00" y1="223.90" x2="525.00" y2="229.00" stroke="#3c3c3c" stroke-width="1.45" />
<line x1="547.50" y1="223.90" x2="547.50" y2="229.00" stroke="#3c3c3c" stroke-width="1.45" />
<line x1="569.90" y1="223.90" x2="569.90" y2="229.00" stroke="#3c3c3c" stroke-width="1.45" />
<line x1="592.10" y1="223.90" x2="592.10" y2="229.00" stroke="#3c3c3c" stroke-width="1.45" />
<text transform="translate(450.5,185.0) rotate(-89.95)" font-size="13.8" font-weight="bold" text-anchor="middle">δ<tspan font-size="9.5" dy="-5">2</tspan><tspan dy="5">H</tspan><tspan font-size="9.5" dy="2.8">LM</tspan><tspan dy="-2.8"> [mUr]</tspan></text>
<text transform="translate(515.3,238.3) rotate(-22)" font-size="12" font-weight="bold" text-anchor="end">Ini.</text>
<text transform="translate(537.5,238.3) rotate(-22)" font-size="12" font-weight="bold" text-anchor="end">Con.</text>
<text transform="translate(560.0,238.3) rotate(-22)" font-size="12" font-weight="bold" text-anchor="end">PM</text>
<text transform="translate(582.4,238.3) rotate(-22)" font-size="12" font-weight="bold" text-anchor="end">AF</text>
<text transform="translate(604.6,238.3) rotate(-22)" font-size="12" font-weight="bold" text-anchor="end">P+A</text>
<line x1="502.90" y1="175.20" x2="502.90" y2="180.40" stroke="#000" stroke-width="1.3" />
<line x1="496.65" y1="175.20" x2="509.15" y2="175.20" stroke="#000" stroke-width="1.3" />
<rect x="496.05" y="181.15" width="13.70" height="9.70" fill="#fff" stroke="#000" stroke-width="1.5"/>
<line x1="496.50" y1="187.20" x2="509.30" y2="187.20" stroke="#000" stroke-width="1.3" />
<rect x="500.00" y="182.10" width="5.8" height="5.8" fill="#fff" stroke="#5a5a5a" stroke-width="1"/>
<line x1="525.00" y1="185.00" x2="525.00" y2="188.00" stroke="#8c8c8c" stroke-width="1.3" />
<line x1="518.75" y1="185.00" x2="531.25" y2="185.00" stroke="#8c8c8c" stroke-width="1.3" />
<line x1="525.00" y1="201.60" x2="525.00" y2="210.50" stroke="#8c8c8c" stroke-width="1.3" />
<line x1="518.75" y1="210.50" x2="531.25" y2="210.50" stroke="#8c8c8c" stroke-width="1.3" />
<rect x="518.15" y="188.75" width="13.70" height="12.10" fill="#8c8c8c" stroke="#8c8c8c" stroke-width="1.5"/>
<line x1="518.60" y1="194.30" x2="531.40" y2="194.30" stroke="#fff" stroke-width="1.5" />
<rect x="522.10" y="192.30" width="5.8" height="5.8" fill="#fff" stroke="#5a5a5a" stroke-width="1"/>
<line x1="547.60" y1="172.60" x2="547.60" y2="179.00" stroke="#000" stroke-width="1.3" />
<line x1="541.35" y1="172.60" x2="553.85" y2="172.60" stroke="#000" stroke-width="1.3" />
<line x1="547.60" y1="193.70" x2="547.60" y2="196.10" stroke="#000" stroke-width="1.3" />
<line x1="541.35" y1="196.10" x2="553.85" y2="196.10" stroke="#000" stroke-width="1.3" />
<rect x="540.75" y="179.75" width="13.70" height="13.20" fill="#000" stroke="#000" stroke-width="1.5"/>
<line x1="541.20" y1="189.60" x2="554.00" y2="189.60" stroke="#fff" stroke-width="1.5" />
<rect x="544.70" y="183.70" width="5.8" height="5.8" fill="#fff" stroke="#5a5a5a" stroke-width="1"/>
<line x1="570.00" y1="162.80" x2="570.00" y2="168.00" stroke="#00ff00" stroke-width="1.3" />
<line x1="563.75" y1="162.80" x2="576.25" y2="162.80" stroke="#00ff00" stroke-width="1.3" />
<rect x="563.15" y="168.75" width="13.70" height="7.80" fill="#00ff00" stroke="#00ff00" stroke-width="1.5"/>
<line x1="563.60" y1="169.80" x2="576.40" y2="169.80" stroke="#fff" stroke-width="1.5" />
<rect x="567.10" y="170.50" width="5.8" height="5.8" fill="#fff" stroke="#5a5a5a" stroke-width="1"/>
<line x1="592.10" y1="158.30" x2="592.10" y2="168.80" stroke="#0000ff" stroke-width="1.3" />
<line x1="585.85" y1="158.30" x2="598.35" y2="158.30" stroke="#0000ff" stroke-width="1.3" />
<line x1="592.10" y1="177.60" x2="592.10" y2="186.20" stroke="#0000ff" stroke-width="1.3" />
<line x1="585.85" y1="186.20" x2="598.35" y2="186.20" stroke="#0000ff" stroke-width="1.3" />
<rect x="585.25" y="169.55" width="13.70" height="7.30" fill="#0000ff" stroke="#0000ff" stroke-width="1.5"/>
<line x1="585.70" y1="175.80" x2="598.50" y2="175.80" stroke="#fff" stroke-width="1.3" />
<rect x="589.20" y="171.00" width="5.8" height="5.8" fill="#fff" stroke="#5a5a5a" stroke-width="1"/>
<polygon points="569.8,188.2 572.8,191.2 569.8,194.2 566.8,191.2" fill="#00ff00"/>
<text x="525.40" y="181.60" font-size="14" text-anchor="middle" fill="#000" font-weight="bold" stroke="#000" stroke-width="0.3" style="" >b</text>
<text x="547.10" y="168.90" font-size="14" text-anchor="middle" fill="#000" font-weight="bold" stroke="#000" stroke-width="0.3" style="" >b</text>
<text x="570.00" y="159.30" font-size="14" text-anchor="middle" fill="#000" font-weight="bold" stroke="#000" stroke-width="0.3" style="" >a</text>
<text x="592.90" y="155.10" font-size="14" text-anchor="middle" fill="#000" font-weight="bold" stroke="#000" stroke-width="0.3" style="" >a</text>
</svg></body></html>
